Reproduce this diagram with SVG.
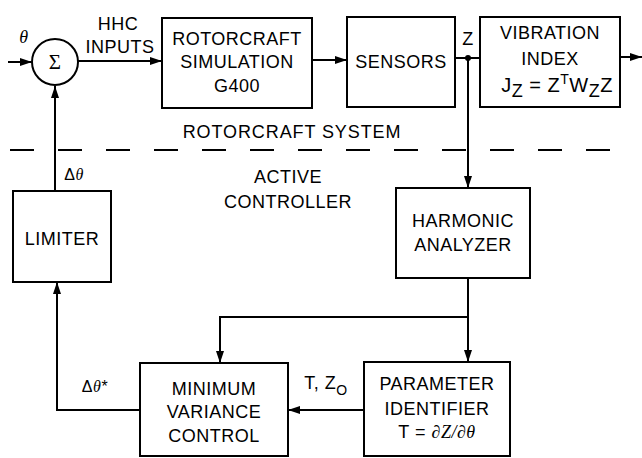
<svg xmlns="http://www.w3.org/2000/svg" width="642" height="458" viewBox="0 0 642 458">
<defs>
<marker id="ah" viewBox="0 0 12 8" refX="12" refY="4" markerWidth="12" markerHeight="8" markerUnits="userSpaceOnUse" orient="auto">
<path d="M0,0 L12,4 L0,8 Z" fill="#000"/>
</marker>
</defs>
<style>
.box{fill:#fff;stroke:#000;stroke-width:2}
.ln{fill:none;stroke:#000;stroke-width:2}
.t{font-family:"Liberation Sans",Arial,sans-serif;font-size:18px;fill:#000;text-anchor:middle;letter-spacing:0.5px}
.s{font-size:16px}
.i{font-family:"Liberation Serif","Times New Roman",serif;font-style:italic}
</style>
<rect width="642" height="458" fill="#fff"/>
<g id="connectors">
<path class="ln" d="M8 62 L32 62" marker-end="url(#ah)"/>
<path class="ln" d="M78 61 L162 61" marker-end="url(#ah)"/>
<path class="ln" d="M312 60 L347 60" marker-end="url(#ah)"/>
<path class="ln" d="M455 58 L480 58"/>
<circle cx="468" cy="58" r="3" fill="#000"/>
<path class="ln" d="M620 57 L642 57" marker-end="url(#ah)"/>
<path class="ln" d="M468 58 L468 188" marker-end="url(#ah)"/>
<path class="ln" d="M468 278 L468 362" marker-end="url(#ah)"/>
<path class="ln" d="M468 317 L220 317 L220 363" marker-end="url(#ah)"/>
<path class="ln" d="M364 410 L288 410" marker-end="url(#ah)"/>
<path class="ln" d="M140 410 L57 410 L57 282" marker-end="url(#ah)"/>
<path class="ln" d="M55 191 L55 86" marker-end="url(#ah)"/>
<path class="ln" d="M10 150 L615 150" stroke-dasharray="24 24"/>
</g>
<g id="labels">
<text class="t i" x="24" y="43" style="font-size:18px">θ</text>
<text class="t" x="118" y="30">HHC</text>
<text class="t" x="120" y="53">INPUTS</text>
<text class="t" x="468" y="45">Z</text>
<text class="t" x="292" y="138" style="letter-spacing:0.9px">ROTORCRAFT SYSTEM</text>
<text class="t" x="288" y="183">ACTIVE</text>
<text class="t" x="288" y="208">CONTROLLER</text>
<text class="t s" x="74" y="180"><tspan>Δ</tspan><tspan class="i">θ</tspan></text>
<text class="t s" x="95" y="392"><tspan>Δ</tspan><tspan class="i">θ</tspan><tspan>*</tspan></text>
<text class="t" x="326" y="389">T, Z<tspan font-size="14" dy="6">O</tspan></text>
</g>
<g id="sum">
<circle cx="55" cy="62" r="23" fill="#fff" stroke="#000" stroke-width="2"/>
<text class="t" x="55" y="69" style="font-family:'Liberation Serif','Times New Roman',serif;font-size:21px">Σ</text>
</g>
<g id="rotorcraft-simulation">
<rect class="box" x="162" y="18" width="150" height="90"/>
<text class="t" x="237" y="45">ROTORCRAFT</text>
<text class="t" x="237" y="68">SIMULATION</text>
<text class="t" x="237" y="92">G400</text>
</g>
<g id="sensors">
<rect class="box" x="347" y="17" width="108" height="90"/>
<text class="t" x="401" y="68">SENSORS</text>
</g>
<g id="vibration-index">
<rect class="box" x="480" y="17" width="140" height="90"/>
<text class="t" x="550" y="39">VIBRATION</text>
<text class="t" x="550" y="65">INDEX</text>
<text class="t" x="557" y="92" style="font-size:20px">J<tspan font-size="18" dy="5">Z</tspan><tspan dy="-5"> = Z</tspan><tspan font-size="14" dy="-8">T</tspan><tspan dy="8">W</tspan><tspan font-size="18" dy="5">Z</tspan><tspan dy="-5">Z</tspan></text>
</g>
<g id="harmonic-analyzer">
<rect class="box" x="396" y="188" width="134" height="90"/>
<text class="t" x="463" y="227">HARMONIC</text>
<text class="t" x="463" y="251">ANALYZER</text>
</g>
<g id="limiter">
<rect class="box" x="13" y="191" width="98" height="91"/>
<text class="t" x="62" y="245">LIMITER</text>
</g>
<g id="minimum-variance-control">
<rect class="box" x="140" y="363" width="148" height="93"/>
<text class="t" x="214" y="395">MINIMUM</text>
<text class="t" x="214" y="418">VARIANCE</text>
<text class="t" x="214" y="442">CONTROL</text>
</g>
<g id="parameter-identifier">
<rect class="box" x="364" y="362" width="146" height="94"/>
<text class="t" x="437" y="390">PARAMETER</text>
<text class="t" x="437" y="415">IDENTIFIER</text>
<text class="t" x="437" y="438">T = <tspan class="i">∂Z/∂θ</tspan></text>
</g>
</svg>
